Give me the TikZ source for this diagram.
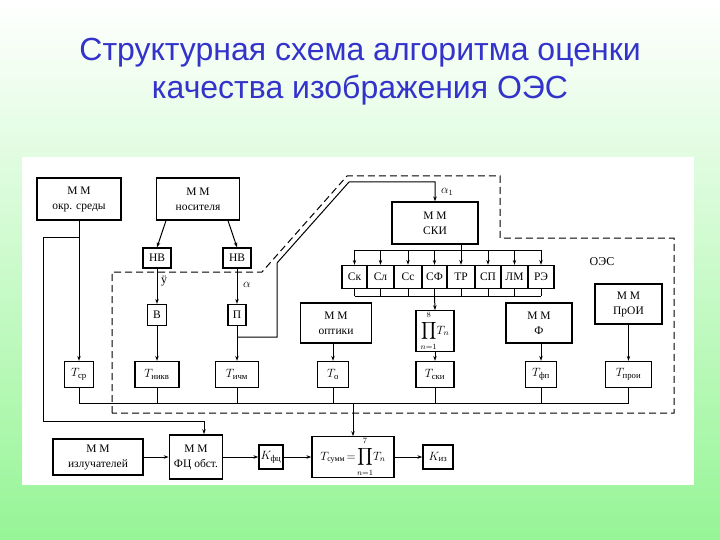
\documentclass[tikz,border=0pt]{standalone}
\usepackage{amsmath}
\usepackage{fontspec}
\setmainfont{Liberation Serif}
\newfontfamily\titlefont{Liberation Sans}
\usepackage{tikz}
\usetikzlibrary{arrows.meta, positioning}
\definecolor{titleblue}{RGB}{51,51,204}
\definecolor{bggreen}{RGB}{150,245,150}

\begin{document}
\begin{tikzpicture}[
        x=1pt, y=-1pt,
        box/.style={draw, line width=1.3pt, inner sep=0pt, align=center,
            font=\fontsize{11.5}{15}\selectfont},
        sbox/.style={box, minimum height=23pt},
        tbox/.style={box, minimum height=26pt, font=\fontsize{12.5}{15}\selectfont},
        link/.style={line width=1pt},
        lbl/.style={font=\fontsize{12}{14}\selectfont, inner sep=1pt},
        >={Stealth[length=5pt,width=3.5pt]}
    ]

    % background and frame
    \useasboundingbox (0,0) rectangle (720,540);
    \shade[top color=white, bottom color=bggreen] (0,0) rectangle (720,540);
    \fill[white] (22,157) rectangle (694,485);

    \node[font=\titlefont\fontsize{32}{38}\selectfont, text=titleblue, align=center] (title) at (360,72)
        {Структурная схема алгоритма оценки\\качества изображения ОЭС};

    % upper blocks
    \node[box, minimum width=84pt, minimum height=42pt] (sred) at (79,199) {М М\\окр. среды};
    \node[box, minimum width=83pt, minimum height=42pt] (nos) at (198,199) {М М\\носителя};
    \node[box, minimum width=28pt, minimum height=20pt] (hv1) at (157,258) {НВ};
    \node[box, minimum width=28pt, minimum height=20pt] (hv2) at (237,258) {НВ};
    \node[box, minimum width=19pt, minimum height=21pt] (vb) at (157,315) {В};
    \node[box, minimum width=18pt, minimum height=21pt] (pb) at (237,315) {П};
    \node[box, minimum width=86pt, minimum height=42pt] (ski) at (435,223) {М М\\СКИ};

    % row of indicators
    \node[sbox, minimum width=25pt] (sk) at (354.5,277) {Ск};
    \node[sbox, minimum width=27pt] (sl) at (380.5,277) {Сл};
    \node[sbox, minimum width=28pt] (ss) at (408,277) {Сс};
    \node[sbox, minimum width=25pt] (sf) at (434.5,277) {СФ};
    \node[sbox, minimum width=28pt] (tr) at (461,277) {ТР};
    \node[sbox, minimum width=26pt] (sp) at (488,277) {СП};
    \node[sbox, minimum width=27pt] (lm) at (514.5,277) {ЛМ};
    \node[sbox, minimum width=26pt] (re) at (541,277) {РЭ};

    \node[box, minimum width=71pt, minimum height=40pt] (opt) at (336,323) {М М\\оптики};
    \node[box, minimum width=38pt, minimum height=39pt, font=\fontsize{12}{14}\selectfont] (prod) at (435,331)
        {$\displaystyle\prod_{\raisebox{-2pt}{$\scriptstyle n=1$}}^{\raisebox{2pt}{$\scriptstyle 8$}}\!T_n$};
    \node[box, minimum width=66pt, minimum height=40pt] (mmf) at (539,323) {М М\\Ф};
    \node[box, minimum width=67pt, minimum height=40pt] (proi) at (628.5,304) {М М\\ПрОИ};

    % transfer functions
    \node[tbox, minimum width=29pt] (tsr) at (79,374.5) {$T_{\text{ср}}$};
    \node[tbox, minimum width=44pt] (tnik) at (157,374.5) {$T_{\text{никв}}$};
    \node[tbox, minimum width=43pt] (tich) at (237,374.5) {$T_{\text{ичм}}$};
    \node[tbox, minimum width=31pt] (topt) at (333,374.5) {$T_{\text{о}}$};
    \node[tbox, minimum width=38pt] (tski) at (435,374.5) {$T_{\text{ски}}$};
    \node[tbox, minimum width=31pt] (tfp) at (541,374.5) {$T_{\text{фп}}$};
    \node[tbox, minimum width=46pt] (tproi) at (628.5,374.5) {$T_{\text{прои}}$};

    % lower blocks
    \node[box, minimum width=90pt, minimum height=36pt] (izl) at (98,457) {М М\\излучателей};
    \node[box, line width=1.7pt, minimum width=53pt, minimum height=44pt] (fc) at (196,457) {М М\\ФЦ обст.};
    \node[tbox, minimum width=24pt, minimum height=24pt] (kfc) at (271,457) {$K_{\text{фц}}$};
    \node[box, minimum width=82pt, minimum height=39pt, font=\fontsize{12}{14}\selectfont] (sum) at (353,457)
        {$T_{\text{сумм}}\!=\!\displaystyle\prod_{\raisebox{-2pt}{$\scriptstyle n=1$}}^{\raisebox{2pt}{$\scriptstyle 7$}}\!T_n$};
    \node[tbox, minimum width=30pt, minimum height=24pt] (kiz) at (438,457) {$K_{\text{из}}$};

    % labels
    \node[lbl, anchor=west] (ly) at (160,281) {ÿ};
    \node[lbl, anchor=west] (la) at (242,285) {$\alpha$};
    \node[lbl, anchor=west] (la1) at (440,192) {$\alpha_1$};
    \node[lbl] (oes) at (602,262) {ОЭС};

    % boundary of the system
    \draw[link, dash pattern=on 7pt off 4pt] (112,413) -- (112,272) -- (262,272) -- (347,176)
        -- (500,176) -- (500,238) -- (674,238) -- (674,413) -- cycle;

    % carrier branch
    \draw[link,->] ([xshift=-32pt]nos.south) -- (hv1.north);
    \draw[link,->] ([xshift=30pt]nos.south) -- (hv2.north);
    \draw[link,->] (hv1) -- (vb);
    \draw[link,->] (hv2) -- (pb);
    \draw[link,->] (vb) -- (tnik);
    \draw[link,->] (pb) -- (tich);
    \draw[link,->] (sred) -- (tsr);

    % environment to background model
    \coordinate (lbr) at (79,237);
    \coordinate (lcor1) at (43,237);
    \coordinate (lcor2) at (43,421);
    \draw[link,->] (lbr) -- (lcor1) -- (lcor2) -| ([xshift=8pt]fc.north);

    % angle to SKI
    \coordinate (aj) at (237,337);
    \coordinate (ac1) at (277,337);
    \coordinate (ac2) at (277,263);
    \coordinate (ac3) at (349,182);
    \draw[link,->] (aj) -- (ac1) -- (ac2) -- (ac3) -| (ski.north);

    % SKI to indicators
    \coordinate (stop) at (461,250);
    \draw[link] (ski.south -| tr.north) -- (stop);
    \draw[link] (sk.north |- stop) -- (re.north |- stop);
    \draw[link,->] (sk.north |- stop) -- (sk.north);
    \draw[link,->] (sl.north |- stop) -- (sl.north);
    \draw[link,->] (ss.north |- stop) -- (ss.north);
    \draw[link,->] (sf.north |- stop) -- (sf.north);
    \draw[link,->] (tr.north |- stop) -- (tr.north);
    \draw[link,->] (sp.north |- stop) -- (sp.north);
    \draw[link,->] (lm.north |- stop) -- (lm.north);
    \draw[link,->] (re.north |- stop) -- (re.north);

    % indicators to product
    \coordinate (sbot) at (434.5,296);
    \draw[link] (sk.south) -- (sk.south |- sbot);
    \draw[link] (sl.south) -- (sl.south |- sbot);
    \draw[link] (ss.south) -- (ss.south |- sbot);
    \draw[link] (sf.south) -- (sf.south |- sbot);
    \draw[link] (tr.south) -- (tr.south |- sbot);
    \draw[link] (sp.south) -- (sp.south |- sbot);
    \draw[link] (lm.south) -- (lm.south |- sbot);
    \draw[link] (re.south) -- (re.south |- sbot);
    \draw[link] (sk.south |- sbot) -- (re.south |- sbot);
    \draw[link,->] (sbot) -- (prod.north);
    \draw[link,->] (prod) -- (tski);

    \draw[link,->] (opt.south -| topt.north) -- (topt.north);
    \draw[link,->] (mmf.south -| tfp.north) -- (tfp.north);
    \draw[link,->] (proi) -- (tproi);

    % common bus
    \coordinate (busl) at (79,403);
    \coordinate (busr) at (628.5,403);
    \coordinate (busm) at (353,403);
    \draw[link] (busl) -- (busr);
    \draw[link] (tsr) -- (busl);
    \draw[link] (tnik) -- (tnik |- busl);
    \draw[link] (tich) -- (tich |- busl);
    \draw[link] (topt) -- (topt |- busl);
    \draw[link] (tski) -- (tski |- busl);
    \draw[link] (tfp) -- (tfp |- busl);
    \draw[link] (tproi) -- (busr);
    \draw[link,->] (busm) -- (sum);

    % lower chain
    \draw[link,->] (izl) -- (fc);
    \draw[link,->] (fc) -- (kfc);
    \draw[link,->] (kfc) -- (sum);
    \draw[link,->] (sum) -- (kiz);

\end{tikzpicture}
\end{document}
